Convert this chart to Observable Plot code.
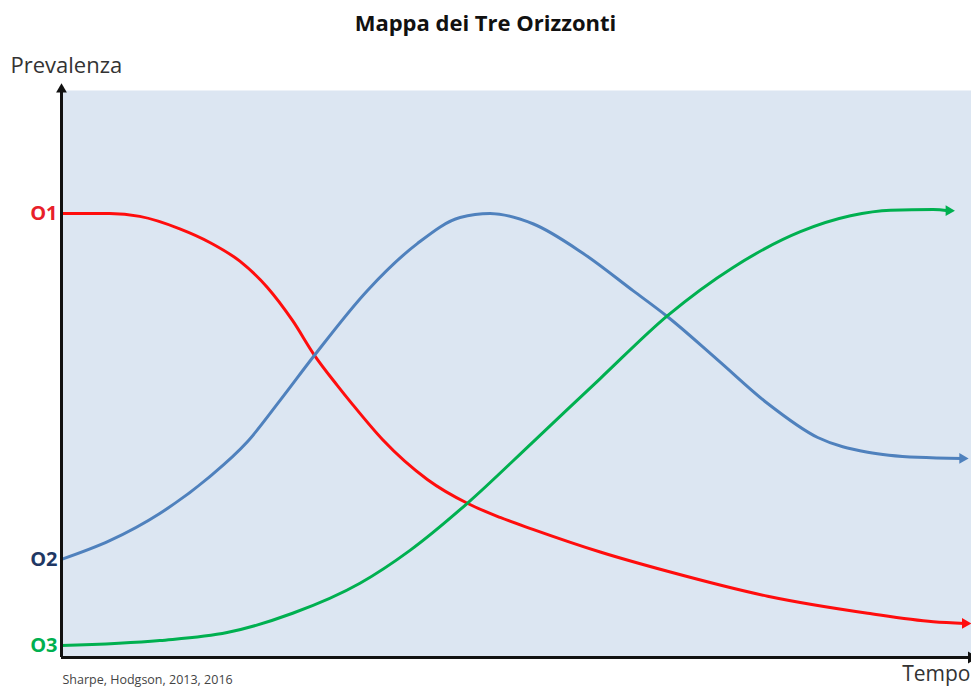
<!DOCTYPE html>
<html><head><meta charset="utf-8">
<script src="https://cdn.jsdelivr.net/npm/d3@7"></script>
<script src="https://cdn.jsdelivr.net/npm/@observablehq/plot@0.6"></script>
<style>
body{margin:0;background:#fff;font-family:"Open Sans",sans-serif;}
#title{height:44px;line-height:44px;text-align:center;font-weight:700;font-size:22px;color:#111;width:971px;}
</style></head><body>
<div id="title">Mappa dei Tre Orizzonti</div>
<div id="chart"></div>
<script>
// Series names and tick labels
const seriesNames = ["O1", "O2", "O3"];
const axisLabelY = "Prevalenza";
const axisLabelX = "Tempo";
const sourceNote = "Sharpe, Hodgson, 2013, 2016";

// Curves: [time, prevalence] on a 0–100 scale
const o1Points = [[0,78.3],[5.3,78.3],[8.6,77.8],[13.0,75.6],[16.3,73.2],[19.6,69.9],[22.6,65.3],[25.4,59.4],[27.8,53.3],[30.3,48.0],[32.0,44.6],[35.3,38.4],[40.2,31.4],[44.6,27.2],[48.2,24.7],[51.8,22.6],[59.2,18.6],[66.6,15.2],[77.6,10.8],[88.6,7.8],[95.8,6.3],[99.3,6.0]];
const o2Points = [[0,17.3],[5.3,20.6],[10.8,25.4],[16.3,31.9],[20.4,38.0],[24.0,45.3],[27.8,53.3],[33.6,64.7],[39.1,73.0],[43.8,77.6],[47.1,78.3],[51.8,76.5],[57.3,71.3],[62.8,64.7],[66.6,60.1],[72.1,52.5],[77.6,44.8],[83.1,38.8],[88.6,36.2],[94.1,35.3],[99.0,35.1]];
const o3Points = [[0,2.1],[10.8,3.0],[18.2,4.4],[25.4,7.8],[32.8,13.1],[38.3,18.9],[44.6,27.2],[51.8,38.0],[59.2,49.2],[66.6,60.3],[73.8,68.8],[81.2,75.1],[86.7,77.9],[91.1,78.9],[95.8,79.0],[97.5,78.8]];

const lineColors = ["#ff0d0d", "#4f81bd", "#00b050"];
const labelColors = ["#e8202a", "#1f3864", "#00b050"];

const allPoints = [o1Points, o2Points, o3Points];
const rows = allPoints.flatMap((pts, i) => pts.map(([t, v]) => ({name: seriesNames[i], t, v})));
const ends = allPoints.map((pts, i) => ({name: seriesNames[i], t: pts[pts.length-1][0], v: pts[pts.length-1][1]}));
const starts = allPoints.map((pts, i) => ({name: seriesNames[i], t: pts[0][0], v: pts[0][1], color: labelColors[i]}));

const axisColor = "#111";

const chart = Plot.plot({
  width: 971,
  height: 644,
  marginTop: 46,
  marginBottom: 31,
  marginLeft: 61,
  marginRight: 0,
  x: {domain: [0, 100], axis: null},
  y: {domain: [0, 100], axis: null},
  color: {domain: seriesNames, range: lineColors},
  style: {fontFamily: "'Open Sans', sans-serif", background: "white"},
  marks: [
    Plot.frame({fill: "#dce6f2", stroke: null}),
    Plot.line(rows, {x: "t", y: "v", z: "name", stroke: "name", strokeWidth: 3, curve: "monotone-x"}),
    Plot.dot(ends, {x: "t", y: "v", fill: "name", symbol: "triangle", rotate: 90, r: 4}),
    Plot.ruleX([0], {y1: 0, y2: 100.2, stroke: axisColor, strokeWidth: 3}),
    Plot.ruleY([0], {x1: 0, x2: 100, stroke: axisColor, strokeWidth: 3}),
    Plot.dot([{t: 0, v: 100.2}], {x: "t", y: "v", fill: axisColor, symbol: "triangle", r: 4}),
    Plot.dot([{t: 100, v: 0}], {x: "t", y: "v", fill: axisColor, symbol: "triangle", rotate: 90, r: 4.5}),
    Plot.text(starts, {x: "t", y: "v", text: "name", fill: "color", dx: -4, textAnchor: "end", lineAnchor: "middle", fontWeight: 700, fontSize: 20}),
    Plot.text([axisLabelY], {frameAnchor: "top-left", dx: -51, dy: -25, textAnchor: "start", lineAnchor: "middle", fontSize: 22, fill: "#333"}),
    Plot.text([axisLabelX], {frameAnchor: "bottom-right", dx: -1, dy: 17, textAnchor: "end", lineAnchor: "middle", fontSize: 21, fill: "#333"}),
    Plot.text([sourceNote], {frameAnchor: "bottom-left", dx: 1, dy: 22, textAnchor: "start", lineAnchor: "middle", fontSize: 12.5, fill: "#444"})
  ]
});
document.getElementById("chart").appendChild(chart);
</script></body></html>
